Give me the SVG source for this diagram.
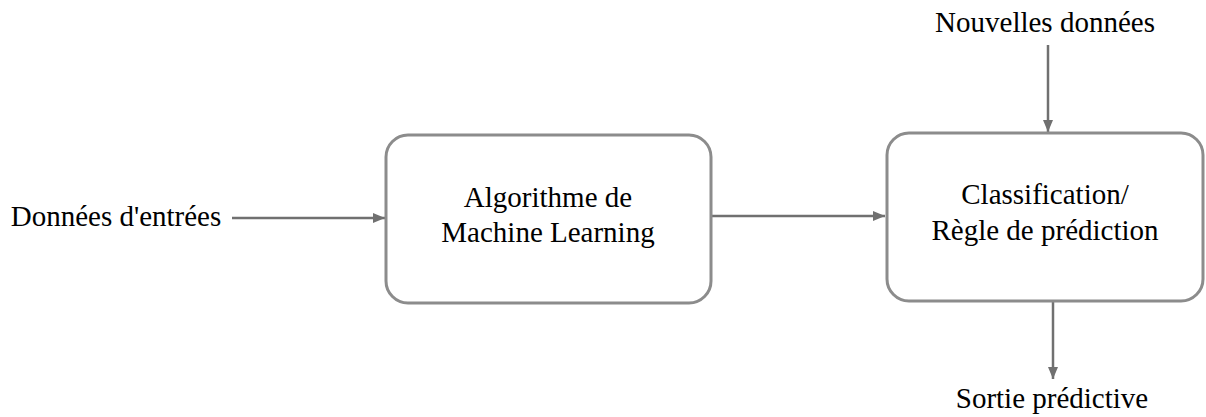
<svg xmlns="http://www.w3.org/2000/svg" width="1206" height="417" viewBox="0 0 1206 417">
  <style>
    .box { fill: #ffffff; stroke: #8c8c8c; stroke-width: 3; }
    .txt { font-family: "Liberation Serif", "Times New Roman", serif; font-size: 29px; fill: #000000; text-anchor: middle; }
    .conn { stroke: #707070; stroke-width: 2.5; fill: none; marker-end: url(#arrow); }
  </style>
  <defs>
    <marker id="arrow" viewBox="0 0 12 10" refX="12" refY="5" markerWidth="12" markerHeight="10" markerUnits="userSpaceOnUse" orient="auto">
      <path d="M0,0 L12,5 L0,10 z" fill="#707070"/>
    </marker>
  </defs>
  <rect width="1206" height="417" fill="#ffffff"/>
  <g id="connectors">
    <line class="conn" x1="232" y1="218" x2="385" y2="218"/>
    <line class="conn" x1="711" y1="216" x2="885" y2="216"/>
    <line class="conn" x1="1048" y1="45" x2="1048" y2="132"/>
    <line class="conn" x1="1053" y1="302" x2="1053" y2="379"/>
  </g>
  <g id="input">
    <text class="txt" x="116" y="226">Données d'entrées</text>
  </g>
  <g id="algo">
    <rect class="box" x="386" y="135" width="325" height="168" rx="22" ry="22"/>
    <text class="txt" x="548" y="207">Algorithme de</text>
    <text class="txt" x="548" y="242">Machine Learning</text>
  </g>
  <g id="classif">
    <rect class="box" x="887" y="133" width="316" height="168" rx="22" ry="22"/>
    <text class="txt" x="1045" y="204">Classification/</text>
    <text class="txt" x="1045" y="240">Règle de prédiction</text>
  </g>
  <g id="nouvelles">
    <text class="txt" x="1045" y="32">Nouvelles données</text>
  </g>
  <g id="sortie">
    <text class="txt" x="1052" y="408">Sortie prédictive</text>
  </g>
</svg>
